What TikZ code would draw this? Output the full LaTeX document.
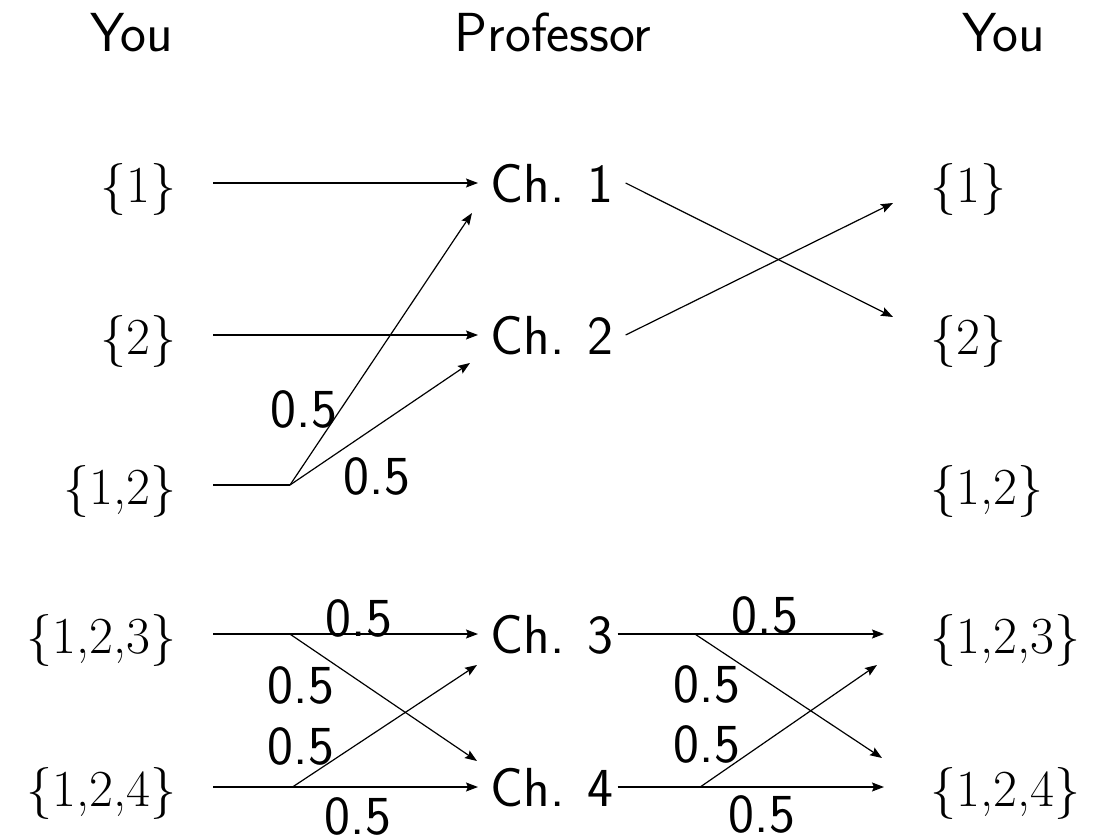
\documentclass[tikz,border=0pt]{standalone}
\usetikzlibrary{arrows.meta,calc}

\begin{document}
\begin{tikzpicture}[x=0.5pt,y=-0.5pt,
  txt/.style={inner sep=0pt,text height=19pt,text depth=0pt,font=\sffamily\fontsize{27.5}{33}\selectfont},
  lset/.style={txt,font=\rmfamily\fontsize{26}{31}\selectfont,anchor=east,inner xsep=18pt},
  rset/.style={txt,font=\rmfamily\fontsize{26}{31}\selectfont,anchor=west,inner xsep=23pt},
  prof/.style={txt,anchor=west,inner xsep=6pt},
  ln/.style={line width=0.6pt},
  arr/.style={ln,-{Stealth[length=6pt,width=4.5pt,inset=1pt]}}]
  \useasboundingbox (0,0) rectangle (1098,835);

  % column heads
  \node[txt] (hyou1) at (132,32) {You};
  \node[txt] (hprof) at (553,32) {Professor};
  \node[txt] (hyou2) at (1004,32) {You};

  % your sets before
  \node[lset] (l1) at (213,183) {\{1\}};
  \node[lset] (l2) at (213,335) {\{2\}};
  \node[lset] (l3) at (213,485) {\{1,2\}};
  \node[lset] (l4) at (213,634) {\{1,2,3\}};
  \node[lset] (l5) at (213,787) {\{1,2,4\}};

  % professor's choices
  \node[prof] (c1) at (478,183) {Ch. 1};
  \node[prof] (c2) at (478,335) {Ch. 2};
  \node[prof] (c3) at (478,634) {Ch. 3};
  \node[prof] (c4) at (478,787) {Ch. 4};

  % your sets after
  \node[rset] (r1) at (884,183) {\{1\}};
  \node[rset] (r2) at (884,335) {\{2\}};
  \node[rset] (r3) at (884,485) {\{1,2\}};
  \node[rset] (r4) at (884,634) {\{1,2,3\}};
  \node[rset] (r5) at (884,787) {\{1,2,4\}};

  % you -> professor
  \draw[arr] (l1) -- (c1);
  \draw[arr] (l2) -- (c2);
  \coordinate (b3) at ($(l3.east)+(77,0)$);
  \draw[ln] (l3) -- (b3);
  \draw[arr] (b3) -- ($(c1.west)+(-6,30)$);
  \draw[arr] (b3) -- ($(c2.west)+(-8,28)$);
  \draw[arr] (l4) -- coordinate[pos=0.29] (b4) (c3);
  \draw[arr] (l5) -- coordinate[pos=0.3] (b5) (c4);
  \draw[arr] (b4) -- ($(c4.west)+(-1,-26)$);
  \draw[arr] (b5) -- ($(c3.west)+(-1,31)$);

  % professor -> you
  \draw[arr] (c1.east) -- ($(r2.west)+(9,-18)$);
  \draw[arr] (c2.east) -- ($(r1.west)+(9,20)$);
  \draw[arr] ([xshift=-4pt]c3.east) -- coordinate[pos=0.29] (b6) (r4);
  \draw[arr] ([xshift=-4pt]c4.east) -- coordinate[pos=0.31] (b7) (r5);
  \draw[arr] (b6) -- ($(r5.west)+(-2,-29)$);
  \draw[arr] (b7) -- ($(r4.west)+(-7,31)$);

  % probabilities
  \node[txt] (q1) at (304,408) {0.5};
  \node[txt] (q2) at (377,475) {0.5};
  \node[txt] (q3) at (359,617) {0.5};
  \node[txt] (q4) at (301,684) {0.5};
  \node[txt] (q5) at (301,745) {0.5};
  \node[txt] (q6) at (358,815) {0.5};
  \node[txt] (q7) at (765,614) {0.5};
  \node[txt] (q8) at (707,683) {0.5};
  \node[txt] (q9) at (707,743) {0.5};
  \node[txt] (q10) at (762,813) {0.5};
\end{tikzpicture}
\end{document}
